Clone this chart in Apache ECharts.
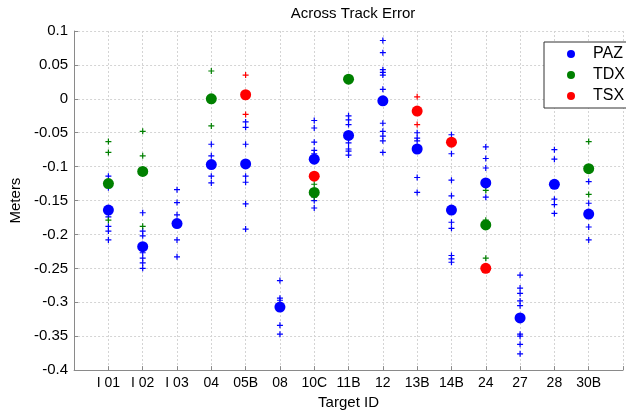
<!DOCTYPE html>
<html>
<head>
<meta charset="utf-8">
<script src="https://cdn.jsdelivr.net/npm/echarts@6/dist/echarts.min.js"></script>
<style>
  html, body { margin: 0; padding: 0; background: #fff; }
  #chart { width: 626px; height: 415px; }
</style>
</head>
<body>
<div id="chart"></div>
<script>
// Target identifiers along the x axis (positions 1..15)
const categories = ['I 01', 'I 02', 'I 03', '04', '05B', '08', '10C', '11B', '12', '13B', '14B', '24', '27', '28', '30B'];

// Y axis tick values (metres)
const yTicks = [0.1, 0.05, 0, -0.05, -0.1, -0.15, -0.2, -0.25, -0.3, -0.35, -0.4];

// Mean across-track error per target and sensor (null = no acquisition)
const pazMean = [-0.164, -0.218, -0.184, -0.097, -0.096, -0.307, -0.089, -0.054, -0.003, -0.074, -0.164, -0.124, -0.323, -0.126, -0.170];
const tdxMean = [-0.125, -0.107, null, 0.000, null, null, -0.138, 0.029, null, null, null, -0.186, null, null, -0.103];
const tsxMean = [null, null, null, null, 0.006, null, -0.114, null, null, -0.018, -0.064, -0.250, null, null, null];

// Individual acquisitions per target and sensor
const pazSamples = [
  [-0.114, -0.131, -0.174, -0.188, -0.195, -0.208],
  [-0.168, -0.195, -0.202, -0.227, -0.235, -0.242, -0.250],
  [-0.134, -0.153, -0.171, -0.208, -0.233],
  [-0.067, -0.084, -0.114, -0.124],
  [-0.034, -0.042, -0.067, -0.114, -0.123, -0.155, -0.192],
  [-0.268, -0.294, -0.297, -0.334, -0.347],
  [-0.032, -0.043, -0.064, -0.076, -0.081, -0.150, -0.161],
  [-0.025, -0.031, -0.038, -0.065, -0.074, -0.077, -0.083],
  [0.086, 0.068, 0.043, 0.039, 0.035, 0.014, -0.036, -0.048, -0.055, -0.062, -0.079],
  [-0.050, -0.058, -0.062, -0.116, -0.138],
  [-0.053, -0.081, -0.120, -0.143, -0.182, -0.191, -0.231, -0.236, -0.241],
  [-0.071, -0.088, -0.102, -0.145],
  [-0.260, -0.279, -0.287, -0.298, -0.305, -0.347, -0.350, -0.362, -0.376],
  [-0.075, -0.089, -0.148, -0.156, -0.169],
  [-0.122, -0.154, -0.189, -0.208]
];
const tdxSamples = [
  [-0.063, -0.079, -0.179],
  [-0.048, -0.084, -0.188],
  [],
  [0.041, -0.040],
  [],
  [],
  [-0.126, -0.145],
  [],
  [],
  [],
  [],
  [-0.135, -0.179, -0.235],
  [],
  [],
  [-0.063, -0.141]
];
const tsxSamples = [
  [], [], [], [],
  [0.035, -0.023],
  [], [], [], [],
  [0.003, -0.038],
  [], [], [], [], []
];

const BLUE = '#0000ff', GREEN = '#008000', RED = '#ff0000';
const FONT = '"Liberation Sans", Arial, Helvetica, sans-serif';
const AXIS_GREY = '#8a8a8a';
const PLUS = 'path://M-0.2,-1H0.2V-0.2H1V0.2H0.2V1H-0.2V0.2H-1V-0.2H-0.2Z';

function meanPoints(arr) {
  const out = [];
  arr.forEach((v, i) => { if (v !== null) out.push([i + 1, v]); });
  return out;
}
function samplePoints(groups) {
  const out = [];
  groups.forEach((g, i) => g.forEach(v => out.push([i + 1, v])));
  return out;
}
function plusSeries(name, groups, color) {
  return {
    name: name, type: 'scatter', data: samplePoints(groups),
    symbol: PLUS, symbolSize: 6, itemStyle: { color: color, opacity: 1 },
    silent: true, z: 2
  };
}
function dotSeries(name, arr, color) {
  return {
    name: name, type: 'scatter', data: meanPoints(arr),
    symbol: 'circle', symbolSize: 11, itemStyle: { color: color, opacity: 1 },
    silent: true, z: 3
  };
}

const chart = echarts.init(document.getElementById('chart'), null, { renderer: 'canvas' });
chart.setOption({
  animation: false,
  backgroundColor: '#ffffff',
  textStyle: { fontFamily: FONT },
  title: {
    text: 'Across Track Error',
    left: 348, top: 1, textAlign: 'center',
    textStyle: { fontFamily: FONT, fontSize: 15, fontWeight: 'normal', color: '#000' }
  },
  grid: { left: 71, right: 2, top: 31, bottom: 42 },
  legend: {
    data: ['PAZ', 'TDX', 'TSX'],
    orient: 'vertical',
    left: 544, top: 42,
    padding: [4, 40, 4, 23],
    itemWidth: 34, itemHeight: 8, itemGap: 5,
    icon: 'circle',
    backgroundColor: '#fff',
    borderColor: '#333', borderWidth: 1,
    textStyle: { fontFamily: FONT, fontSize: 16, color: '#000' }
  },
  xAxis: {
    type: 'value', min: 0, max: 16, interval: 1,
    name: 'Target ID', nameLocation: 'middle', nameGap: 22,
    nameTextStyle: { fontFamily: FONT, fontSize: 15, color: '#000' },
    axisLine: { show: true, onZero: false, lineStyle: { color: AXIS_GREY, width: 1 } },
    axisTick: { show: true, inside: true, length: 4, lineStyle: { color: AXIS_GREY } },
    axisLabel: {
      margin: 6, fontFamily: FONT, fontSize: 14, color: '#000',
      formatter: v => (v >= 1 && v <= categories.length) ? categories[v - 1] : ''
    },
    splitLine: { show: true, lineStyle: { color: '#d4d4d4', type: [2, 2], width: 1 } }
  },
  yAxis: {
    type: 'value', min: -0.4, max: 0.1, interval: 0.05,
    name: 'Meters', nameLocation: 'middle', nameGap: 40, nameRotate: 90,
    nameTextStyle: { fontFamily: FONT, fontSize: 15, color: '#000' },
    axisLine: { show: true, lineStyle: { color: AXIS_GREY, width: 1 } },
    axisTick: { show: true, inside: true, length: 4, lineStyle: { color: AXIS_GREY } },
    axisLabel: {
      margin: 6, fontFamily: FONT, fontSize: 15, color: '#000',
      formatter: v => {
        const t = yTicks.find(k => Math.abs(k - v) < 1e-9);
        return t === undefined ? '' : String(t);
      }
    },
    splitLine: { show: true, lineStyle: { color: '#d4d4d4', type: [2, 2], width: 1 } }
  },
  series: [
    plusSeries('PAZ samples', pazSamples, BLUE),
    plusSeries('TDX samples', tdxSamples, GREEN),
    plusSeries('TSX samples', tsxSamples, RED),
    dotSeries('PAZ', pazMean, BLUE),
    dotSeries('TDX', tdxMean, GREEN),
    dotSeries('TSX', tsxMean, RED)
  ]
});
</script>
</body>
</html>
